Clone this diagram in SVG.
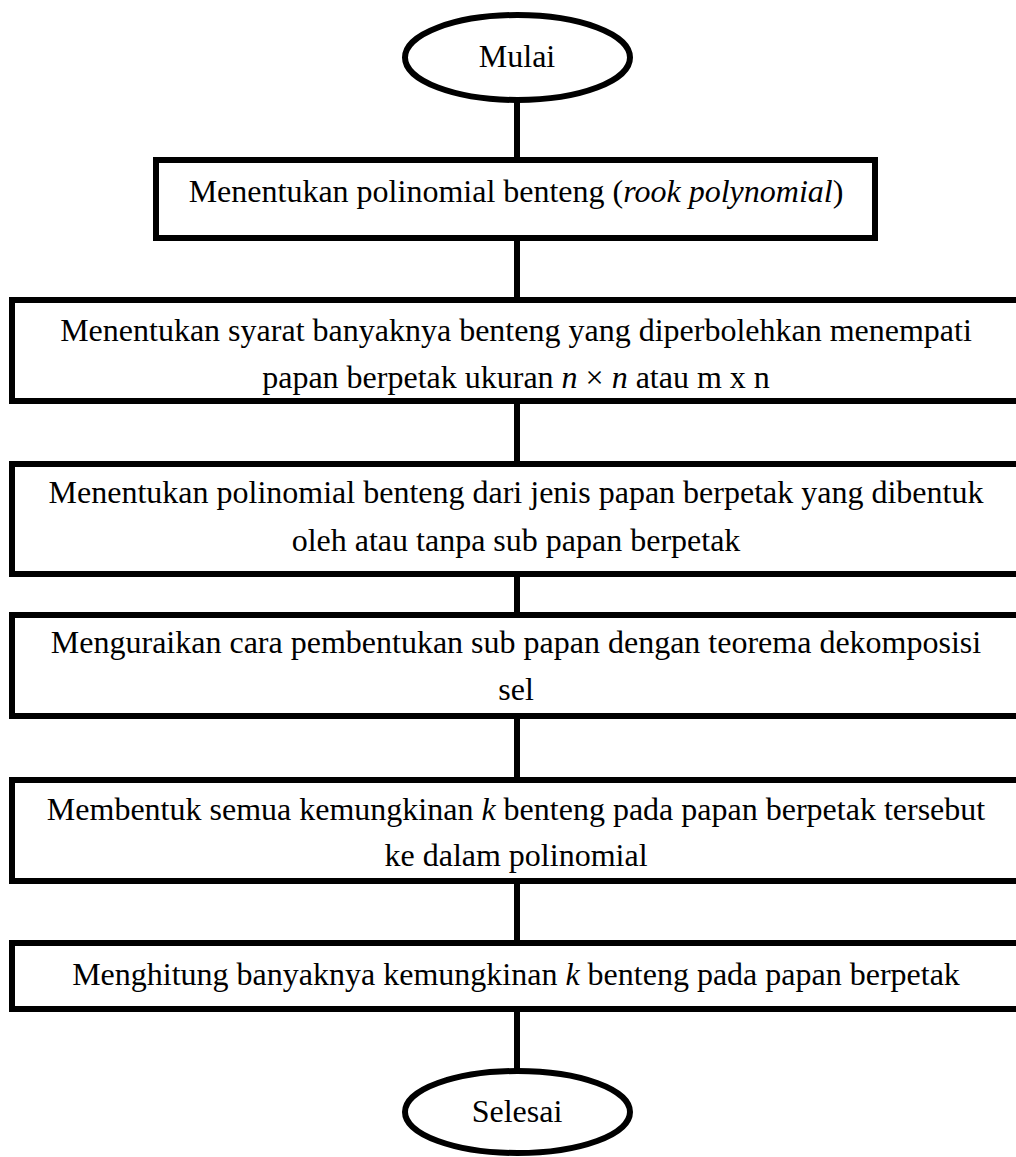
<svg xmlns="http://www.w3.org/2000/svg" width="1016" height="1157" viewBox="0 0 1016 1157">
<style>
.shape{fill:#fff;stroke:#000;stroke-width:6}
.conn{stroke:#000;stroke-width:6;fill:none}
text{font-family:"Liberation Serif","Times New Roman",serif;font-size:32px;fill:#000;text-anchor:middle}
.it{font-style:italic}
</style>
<rect width="1016" height="1157" fill="#fff"/>
<g id="connectors">
<line class="conn" x1="517" y1="100" x2="517" y2="160"/>
<line class="conn" x1="517" y1="238" x2="517" y2="300"/>
<line class="conn" x1="517" y1="401" x2="517" y2="464"/>
<line class="conn" x1="517" y1="574" x2="517" y2="615"/>
<line class="conn" x1="517" y1="716" x2="517" y2="780"/>
<line class="conn" x1="517" y1="881" x2="517" y2="943"/>
<line class="conn" x1="517" y1="1009" x2="517" y2="1071"/>
</g>
<g id="start">
<ellipse class="shape" cx="517.5" cy="57.5" rx="112.5" ry="42.5"/>
<text x="517" y="67">Mulai</text>
</g>
<g id="step1">
<rect class="shape" x="156" y="160" width="719" height="78"/>
<text x="516" y="202">Menentukan polinomial benteng (<tspan class="it">rook polynomial</tspan>)</text>
</g>
<g id="step2">
<rect class="shape" x="12" y="300" width="1010" height="101"/>
<text x="516" y="341">Menentukan syarat banyaknya benteng yang diperbolehkan menempati</text>
<text x="516" y="388">papan berpetak ukuran <tspan class="it">n</tspan> × <tspan class="it">n</tspan> atau m x n</text>
</g>
<g id="step3">
<rect class="shape" x="12" y="464" width="1010" height="110"/>
<text x="516" y="503">Menentukan polinomial benteng dari jenis papan berpetak yang dibentuk</text>
<text x="516" y="551">oleh atau tanpa sub papan berpetak</text>
</g>
<g id="step4">
<rect class="shape" x="12" y="615" width="1010" height="101"/>
<text x="516" y="653">Menguraikan cara pembentukan sub papan dengan teorema dekomposisi</text>
<text x="516" y="700">sel</text>
</g>
<g id="step5">
<rect class="shape" x="12" y="780" width="1010" height="101"/>
<text x="516" y="820">Membentuk semua kemungkinan <tspan class="it">k</tspan> benteng pada papan berpetak tersebut</text>
<text x="516" y="866">ke dalam polinomial</text>
</g>
<g id="step6">
<rect class="shape" x="12" y="943" width="1010" height="66"/>
<text x="516" y="985">Menghitung banyaknya kemungkinan <tspan class="it">k</tspan> benteng pada papan berpetak</text>
</g>
<g id="end">
<ellipse class="shape" cx="517.5" cy="1112" rx="112.5" ry="41"/>
<text x="517" y="1122">Selesai</text>
</g>
</svg>
